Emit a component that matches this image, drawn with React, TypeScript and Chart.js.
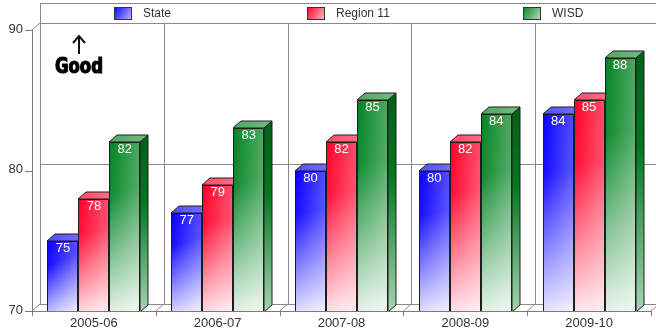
import React, { useEffect, useRef } from "react";
import { Chart, registerables } from "chart.js";

Chart.register(...registerables);

// School years on the x axis
const categories = ["2005-06", "2006-07", "2007-08", "2008-09", "2009-10"];
// Series names shown in the legend strip
const seriesNames = ["State", "Region 11", "WISD"];
// Series values
const stateValues = [75, 77, 80, 80, 84];
const regionValues = [78, 79, 82, 82, 85];
const wisdValues = [82, 83, 85, 84, 88];
// Value axis ticks
const yTicks = [70, 80, 90];
const yMin = 70;
const yMax = 90;

// Per-series face colours [r,g,b]
const seriesColors: number[][] = [
  [8, 0, 255],
  [255, 0, 40],
  [0, 132, 32],
];

const DEPTH_X = 8;
const DEPTH_Y = -7;
const FONT = '"Liberation Sans", Arial, sans-serif';

function rgb(c: number[], a = 1) {
  return `rgba(${Math.round(c[0])},${Math.round(c[1])},${Math.round(c[2])},${a})`;
}
function tint(c: number[], t: number) {
  return c.map((v) => v + (255 - v) * t);
}
function shade(c: number[], t: number) {
  return c.map((v) => v * (1 - t));
}

function line(ctx: CanvasRenderingContext2D, x1: number, y1: number, x2: number, y2: number) {
  ctx.beginPath();
  ctx.moveTo(x1, y1);
  ctx.lineTo(x2, y2);
  ctx.stroke();
}

function drawBar3D(
  ctx: CanvasRenderingContext2D,
  left: number,
  right: number,
  top: number,
  bottom: number,
  c: number[]
) {
  const dx = DEPTH_X;
  const dy = DEPTH_Y;
  ctx.save();
  ctx.lineWidth = 1;
  ctx.strokeStyle = "#1e1e1e";
  ctx.lineJoin = "round";

  // side face
  const sg = ctx.createLinearGradient(0, top, 0, bottom);
  sg.addColorStop(0, rgb(shade(c, 0.25)));
  sg.addColorStop(0.35, rgb(shade(c, 0.1)));
  sg.addColorStop(1, rgb(tint(c, 0.65)));
  ctx.beginPath();
  ctx.moveTo(right, top);
  ctx.lineTo(right + dx, top + dy);
  ctx.lineTo(right + dx, bottom + dy);
  ctx.lineTo(right, bottom);
  ctx.closePath();
  ctx.fillStyle = sg;
  ctx.fill();
  ctx.stroke();

  // top face
  const tg = ctx.createLinearGradient(left, 0, right + dx, 0);
  tg.addColorStop(0, rgb(tint(c, 0.3)));
  tg.addColorStop(1, rgb(tint(c, 0.45)));
  ctx.beginPath();
  ctx.moveTo(left, top);
  ctx.lineTo(left + dx, top + dy);
  ctx.lineTo(right + dx, top + dy);
  ctx.lineTo(right, top);
  ctx.closePath();
  ctx.fillStyle = tg;
  ctx.fill();
  ctx.stroke();

  // front face: horizontal sheen plus a fade to white toward the base
  const fg = ctx.createLinearGradient(left, 0, right, 0);
  fg.addColorStop(0, rgb(c));
  fg.addColorStop(1, rgb(tint(c, 0.3)));
  ctx.fillStyle = fg;
  ctx.fillRect(left, top, right - left, bottom - top);
  const wg = ctx.createLinearGradient(left, top, right, bottom);
  wg.addColorStop(0, "rgba(255,255,255,0)");
  wg.addColorStop(0.3, "rgba(255,255,255,0.05)");
  wg.addColorStop(1, "rgba(255,255,255,0.92)");
  ctx.fillStyle = wg;
  ctx.fillRect(left, top, right - left, bottom - top);
  ctx.strokeRect(left + 0.5, top + 0.5, right - left - 1, bottom - top - 1);
  ctx.restore();
}

const box3DPlugin = {
  id: "box3d",
  beforeDatasetsDraw(chart: any) {
    const ctx: CanvasRenderingContext2D = chart.ctx;
    const ys = chart.scales.y;
    const area = chart.chartArea;
    const n = categories.length;
    const step = (area.right - area.left) / n;
    const y70 = ys.getPixelForValue(yMin);
    const y90 = ys.getPixelForValue(yMax);
    const backL = area.left + DEPTH_X;
    const backR = chart.width;
    const backTop = 3;

    ctx.save();
    ctx.lineWidth = 1;
    ctx.strokeStyle = "#8a8a8a";

    // back wall frame
    line(ctx, backL + 0.5, backTop, backL + 0.5, y70 + DEPTH_Y);
    line(ctx, backL, backTop + 0.5, backR, backTop + 0.5);
    line(ctx, backL, y90 + DEPTH_Y + 0.5, backR, y90 + DEPTH_Y + 0.5);
    // back grid lines
    yTicks.forEach((t) => {
      if (t === yMin || t === yMax) return;
      const py = Math.round(ys.getPixelForValue(t) + DEPTH_Y) + 0.5;
      line(ctx, backL, py, backR, py);
    });
    // category dividers on the back wall
    for (let k = 1; k < n; k++) {
      const bx = Math.round(area.left + step * k + DEPTH_X) + 0.5;
      line(ctx, bx, y90 + DEPTH_Y, bx, y70 + DEPTH_Y);
    }
    // floor
    line(ctx, backL, y70 + DEPTH_Y + 0.5, backR, y70 + DEPTH_Y + 0.5);
    for (let k = 0; k <= n; k++) {
      const fx = area.left + step * k;
      line(ctx, fx, y70, fx + DEPTH_X, y70 + DEPTH_Y);
    }
    // left wall edge
    line(ctx, area.left, y90, backL, y90 + DEPTH_Y);
    ctx.restore();
  },
  afterDatasetsDraw(chart: any) {
    const ctx: CanvasRenderingContext2D = chart.ctx;
    const ys = chart.scales.y;
    const xs = chart.scales.x;
    const area = chart.chartArea;
    const n = categories.length;
    const step = (area.right - area.left) / n;
    const y70 = ys.getPixelForValue(yMin);
    const y90 = ys.getPixelForValue(yMax);
    const metas = chart.data.datasets.map((_: any, i: number) => chart.getDatasetMeta(i));

    // bars, category by category so that later bars cover earlier side faces
    for (let ci = 0; ci < n; ci++) {
      metas.forEach((meta: any, di: number) => {
        const el = meta.data[ci];
        const p = el.getProps(["x", "y", "width"], true);
        const left = Math.round(p.x - p.width / 2);
        const right = Math.round(p.x + p.width / 2);
        drawBar3D(ctx, left, right, Math.round(p.y), Math.round(y70) + 1, seriesColors[di]);
      });
      metas.forEach((meta: any, di: number) => {
        const el = meta.data[ci];
        const p = el.getProps(["x", "y"], true);
        const v = chart.data.datasets[di].data[ci];
        ctx.save();
        ctx.fillStyle = "#ffffff";
        ctx.font = `13px ${FONT}`;
        ctx.textAlign = "center";
        ctx.textBaseline = "top";
        ctx.fillText(String(v), p.x, p.y + 1);
        ctx.restore();
      });
    }

    ctx.save();
    // front axes
    ctx.strokeStyle = "#7a7a7a";
    ctx.lineWidth = 1;
    line(ctx, area.left + 0.5, y90, area.left + 0.5, y70 + 1);
    line(ctx, area.left, Math.round(y70) + 0.5, area.right, Math.round(y70) + 0.5);
    yTicks.forEach((t) => {
      const py = Math.round(ys.getPixelForValue(t)) + 0.5;
      line(ctx, area.left - 7, py, area.left, py);
    });
    for (let k = 0; k <= n; k++) {
      const tx = Math.round(area.left + step * k) + 0.5;
      line(ctx, tx, y70, tx, y70 + 5);
    }

    // tick labels
    ctx.fillStyle = "#333333";
    ctx.font = `13px ${FONT}`;
    ctx.textAlign = "right";
    ctx.textBaseline = "middle";
    yTicks.forEach((t) => {
      ctx.fillText(String(t), area.left - 9, ys.getPixelForValue(t) - 1);
    });
    ctx.textAlign = "center";
    categories.forEach((c, i) => {
      ctx.fillText(c, xs.getPixelForValue(i), y70 + 12);
    });

    // legend strip
    const legL = area.left + DEPTH_X;
    const colW = (chart.width - legL) / seriesNames.length;
    ctx.font = `12px ${FONT}`;
    ctx.textBaseline = "middle";
    ctx.textAlign = "left";
    seriesNames.forEach((name, i) => {
      const tw = ctx.measureText(name).width;
      const gw = 18 + 11 + tw;
      const sx = Math.round(legL + colW * i + (colW - gw) / 2);
      const c = seriesColors[i];
      const g = ctx.createLinearGradient(sx, 7, sx + 18, 20);
      g.addColorStop(0, rgb(c));
      g.addColorStop(1, rgb(tint(c, 0.75)));
      ctx.fillStyle = g;
      ctx.fillRect(sx, 7, 18, 13);
      ctx.strokeStyle = "#333333";
      ctx.strokeRect(sx + 0.5, 7.5, 17, 12);
      ctx.fillStyle = "#333333";
      ctx.fillText(name, sx + 29, 13.5);
    });

    // "Good" marker with an upward arrow
    ctx.strokeStyle = "#111111";
    ctx.lineWidth = 2;
    line(ctx, 79, 37, 79, 54);
    ctx.beginPath();
    ctx.moveTo(73, 43);
    ctx.lineTo(79, 36);
    ctx.lineTo(85, 43);
    ctx.stroke();
    ctx.fillStyle = "#000000";
    ctx.font = `bold 21px "DejaVu Sans Condensed", "DejaVu Sans", sans-serif`;
    ctx.textAlign = "left";
    ctx.textBaseline = "alphabetic";
    const gw = ctx.measureText("Good").width;
    ctx.save();
    ctx.translate(55, 73);
    ctx.scale(48 / gw, 1);
    ctx.lineWidth = 1.2;
    ctx.strokeStyle = "#000";
    ctx.strokeText("Good", 0, 0);
    ctx.fillText("Good", 0, 0);
    ctx.restore();
    ctx.restore();
  },
};

export default function App() {
  const canvasRef = useRef<HTMLCanvasElement | null>(null);

  useEffect(() => {
    const canvas = canvasRef.current;
    if (!canvas) return;
    const chart = new Chart(canvas, {
      type: "bar",
      data: {
        labels: categories,
        datasets: [stateValues, regionValues, wisdValues].map((vals, i) => ({
          label: seriesNames[i],
          data: vals,
          backgroundColor: "rgba(0,0,0,0)",
          borderWidth: 0,
          categoryPercentage: 0.75,
          barPercentage: 1,
        })),
      },
      options: {
        animation: false,
        responsive: false,
        maintainAspectRatio: false,
        events: [],
        layout: { padding: { left: 32, right: 5, top: 30, bottom: 20 } },
        scales: {
          x: { display: false, offset: true },
          y: { display: false, min: yMin, max: yMax },
        },
        plugins: {
          legend: { display: false },
          tooltip: { enabled: false },
        },
      },
      plugins: [box3DPlugin],
    });
    return () => chart.destroy();
  }, []);

  return (
    <div style={{ position: "fixed", left: 0, top: 0, width: 656, height: 331, background: "#fff" }}>
      <canvas ref={canvasRef} width={656} height={331} style={{ display: "block" }} />
    </div>
  );
}
